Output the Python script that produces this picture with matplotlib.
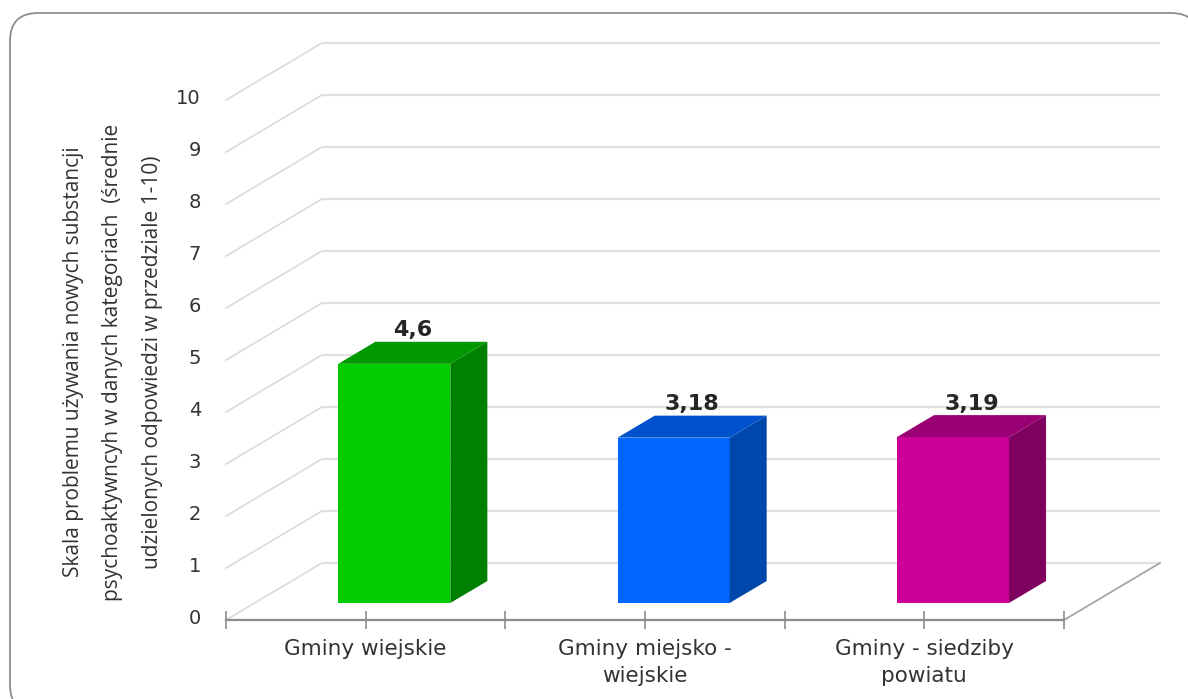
import matplotlib
matplotlib.use("Agg")
import matplotlib.pyplot as plt
from matplotlib.patches import Polygon, FancyBboxPatch
from matplotlib.transforms import ScaledTranslation, IdentityTransform

categories = ["Gminy wiejskie", "Gminy miejsko -\nwiejskie", "Gminy - siedziby\npowiatu"]
values = [4.6, 3.18, 3.19]
value_labels = ["4,6", "3,18", "3,19"]
front_colors = ["#00CC00", "#0066FF", "#CC0099"]
side_colors = ["#008000", "#0047AB", "#80005F"]
top_colors = ["#009900", "#0052CC", "#990073"]
y_ticks = list(range(0, 11))
y_title = ("Skala problemu używania nowych substancji\n"
           "psychoaktywncyh w danych kategoriach  (średnie\n"
           "udzielonych odpowiedzi w przedziale 1-10)")

W, H = 1188, 699
fig = plt.figure(figsize=(W / 100, H / 100), dpi=100, facecolor="white")
L, R, B, T = 226, 1064, 620, 100
ax = fig.add_axes([L / W, (H - B) / H, (R - L) / W, (B - T) / H])
ax.set_xlim(0, 3)
ax.set_ylim(0, 10)
ax.patch.set_visible(False)

# Oblique projection: depth 0 = front plane, depth 1 = back wall
DX = 96 / ((R - L) / 3)
DY = 57 / ((B - T) / 10)
def proj(x, v, d):
    return x + d * DX, v + d * DY

# Chart frame: its right and bottom edges run past the picture
fig.add_artist(FancyBboxPatch((10, -14), 1189, 700,
                              boxstyle="round,pad=0,rounding_size=28",
                              fc="white", ec="#8C8C8C", lw=1.3,
                              transform=IdentityTransform(), zorder=-5))

# walls
for v in y_ticks:
    x0, y0 = proj(0, v, 0)
    x1, y1 = proj(0, v, 1)
    x2, y2 = proj(3, v, 1)
    ax.plot([x0, x1], [y0, y1], color="#DADADA", lw=1.2, clip_on=False, zorder=1)
    ax.plot([x1, x2], [y1, y2], color="#E0E0E0", lw=1.6, clip_on=False, zorder=1,
            solid_capstyle="butt")
x0, y0 = proj(3, 0, 0)
x1, y1 = proj(3, 0, 1)
ax.plot([x0, x1], [y0, y1], color="#A6A6A6", lw=1.3, clip_on=False, zorder=1)

# bars
BAR_W = 112 / ((R - L) / 3)
D0, D1 = 17 / 57, (17 + 22) / 57
for i, (val, fc, sc, tc) in enumerate(zip(values, front_colors, side_colors, top_colors)):
    c = i + 0.5
    xl, xr = c - BAR_W / 2, c + BAR_W / 2
    bx, by = proj(c, 0, D0)
    ax.bar(bx, val, BAR_W, bottom=by, color=fc, lw=0, clip_on=False, zorder=3)
    side = [proj(xr, 0, D0), proj(xr, 0, D1), proj(xr, val, D1), proj(xr, val, D0)]
    top = [proj(xl, val, D0), proj(xl, val, D1), proj(xr, val, D1), proj(xr, val, D0)]
    ax.add_patch(Polygon(side, fc=sc, ec="none", clip_on=False, zorder=3))
    ax.add_patch(Polygon(top, fc=tc, ec="none", clip_on=False, zorder=3))
    lx, ly = proj(c, val, (D0 + D1) / 2)
    ax.annotate(value_labels[i], (lx, ly), xytext=(0, 11.8), textcoords="offset points",
                ha="center", va="baseline", fontsize=16, fontweight="bold",
                family="DejaVu Sans", color="#262626", zorder=5, annotation_clip=False)

# axes furniture
for s in ["top", "right", "left"]:
    ax.spines[s].set_visible(False)
ax.spines["bottom"].set_color("#8C8C8C")
ax.spines["bottom"].set_linewidth(1.6)
ax.set_yticks(y_ticks)
ax.tick_params(axis="y", length=0, pad=18, labelsize=14, labelcolor="#333333")
off = ScaledTranslation(0, 3.5 / 100, fig.dpi_scale_trans)
for lab in ax.get_yticklabels():
    lab.set_fontfamily("DejaVu Sans")
    lab.set_transform(lab.get_transform() + off)
ax.set_xticks([0.5, 1.5, 2.5], categories)
ax.set_xticks([0, 1, 2, 3], minor=True)
ax.tick_params(axis="x", which="both", direction="inout", length=13, width=1.2, color="#8C8C8C")
ax.tick_params(axis="x", which="major", pad=7, labelsize=15.5, labelcolor="#333333")
for lab in ax.get_xticklabels():
    lab.set_fontfamily("DejaVu Sans")
    lab.set_linespacing(1.47)

fig.text(113 / W, 1 - 362 / H, y_title, rotation=90, ha="center", va="center",
         ma="center", fontsize=15, family="Open Sans", color="#333333", linespacing=2.13)

fig.savefig("out.png", dpi=100)
